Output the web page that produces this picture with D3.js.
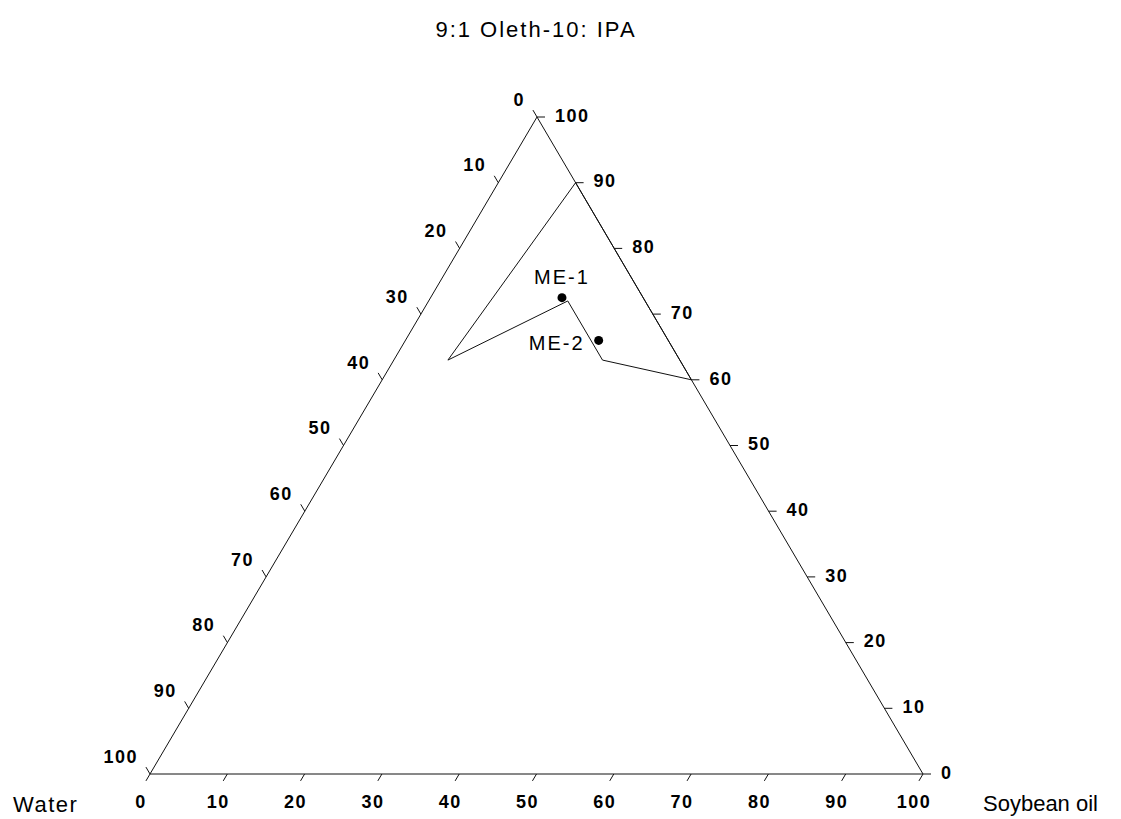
<!DOCTYPE html>
<html>
<head>
<meta charset="utf-8">
<script src="https://cdn.jsdelivr.net/npm/d3@7"></script>
<style>
  html, body { margin: 0; padding: 0; background: #fff; }
  svg { display: block; font-family: "Liberation Sans", Arial, sans-serif; }
</style>
</head>
<body>
<svg id="chart" width="1121" height="819"></svg>
<script>
// Ternary phase diagram: Water / Soybean oil / Smix (9:1 Oleth-10 : IPA)
const titleText = "9:1 Oleth-10: IPA";
const waterLabel = "Water";
const oilLabel = "Soybean oil";
const tickValues = [0, 10, 20, 30, 40, 50, 60, 70, 80, 90, 100];

// Microemulsion region boundary (percent compositions)
const boundaryWater = [0, 30, 10, 10, 0];
const boundaryOil   = [10, 7, 18, 27, 40];
const boundarySmix  = [90, 63, 72, 63, 60];

// Selected formulations
const pointNames = ["ME-1", "ME-2"];
const pointWater = [10.5, 9];
const pointOil   = [17, 25];
const pointSmix  = [72.5, 66];

const svg = d3.select("#chart");

// Triangle corners in screen space
const vW = [150, 774];   // Water apex (bottom-left)
const vO = [923, 774];   // Soybean oil apex (bottom-right)
const vS = [537, 117];   // Smix apex (top)

const frac = d3.scaleLinear().domain([0, 100]).range([0, 1]);

function project(w, o, s) {
  const a = frac(w), b = frac(o), c = frac(s);
  return [a * vW[0] + b * vO[0] + c * vS[0], a * vW[1] + b * vO[1] + c * vS[1]];
}
function unit(p, q) {
  const dx = q[0] - p[0], dy = q[1] - p[1], L = Math.hypot(dx, dy);
  return [dx / L, dy / L];
}

const ink = "#111";
const tickLen = 8;

// Triangle frame
svg.append("path")
  .attr("d", d3.line()([vW, vO, vS]) + "Z")
  .attr("fill", "none")
  .attr("stroke", ink)
  .attr("stroke-width", 1);

const tickG = svg.append("g").attr("stroke", ink).attr("stroke-width", 1);
const labelG = svg.append("g")
  .attr("font-size", 18)
  .attr("font-weight", "bold")
  .attr("letter-spacing", 1.5)
  .attr("fill", "#000");

// Bottom axis: Soybean oil, ticks parallel to the left edge
const dirBottom = unit(vS, vW);
tickValues.forEach(v => {
  const p = project(100 - v, v, 0);
  tickG.append("line")
    .attr("x1", p[0]).attr("y1", p[1])
    .attr("x2", p[0] + dirBottom[0] * tickLen).attr("y2", p[1] + dirBottom[1] * tickLen);
  labelG.append("text")
    .attr("x", p[0] - 9).attr("y", p[1] + 34)
    .attr("text-anchor", "middle")
    .text(v);
});

// Left axis: Water, ticks parallel to the right edge
const dirLeft = unit(vO, vS);
tickValues.forEach(v => {
  const p = project(v, 0, 100 - v);
  tickG.append("line")
    .attr("x1", p[0]).attr("y1", p[1])
    .attr("x2", p[0] + dirLeft[0] * tickLen).attr("y2", p[1] + dirLeft[1] * tickLen);
  labelG.append("text")
    .attr("x", p[0] - 12).attr("y", p[1] - 16)
    .attr("text-anchor", "end")
    .attr("dominant-baseline", "middle")
    .text(v);
});

// Right axis: Smix, ticks parallel to the base
const dirRight = unit(vW, vO);
tickValues.forEach(v => {
  const p = project(0, 100 - v, v);
  tickG.append("line")
    .attr("x1", p[0]).attr("y1", p[1])
    .attr("x2", p[0] + dirRight[0] * tickLen).attr("y2", p[1] + dirRight[1] * tickLen);
  labelG.append("text")
    .attr("x", p[0] + 18).attr("y", p[1])
    .attr("text-anchor", "start")
    .attr("dominant-baseline", "middle")
    .text(v);
});

// Microemulsion region
const region = boundaryWater.map((w, i) => project(w, boundaryOil[i], boundarySmix[i]));
svg.append("path")
  .attr("d", d3.line()(region) + "Z")
  .attr("fill", "none")
  .attr("stroke", ink)
  .attr("stroke-width", 1);

// Formulation points
const pts = pointNames.map((n, i) => ({ name: n, pos: project(pointWater[i], pointOil[i], pointSmix[i]) }));
svg.append("g").selectAll("circle").data(pts).join("circle")
  .attr("cx", d => d.pos[0]).attr("cy", d => d.pos[1])
  .attr("r", 4.5).attr("fill", "#000");

const ptLabels = svg.append("g").attr("font-size", 20).attr("letter-spacing", 2).attr("fill", "#000");
ptLabels.append("text")
  .attr("x", pts[0].pos[0]).attr("y", pts[0].pos[1] - 14)
  .attr("text-anchor", "middle").text(pts[0].name);
ptLabels.append("text")
  .attr("x", pts[1].pos[0] - 14).attr("y", pts[1].pos[1] + 10)
  .attr("text-anchor", "end").text(pts[1].name);

// Title and corner labels
svg.append("text")
  .attr("x", 536).attr("y", 37)
  .attr("text-anchor", "middle")
  .attr("font-size", 22).attr("letter-spacing", 2)
  .text(titleText);
svg.append("text")
  .attr("x", 13).attr("y", 812)
  .attr("font-size", 22).attr("letter-spacing", 1.5)
  .text(waterLabel);
svg.append("text")
  .attr("x", 983).attr("y", 811)
  .attr("font-size", 22)
  .text(oilLabel);
</script>
</body>
</html>
